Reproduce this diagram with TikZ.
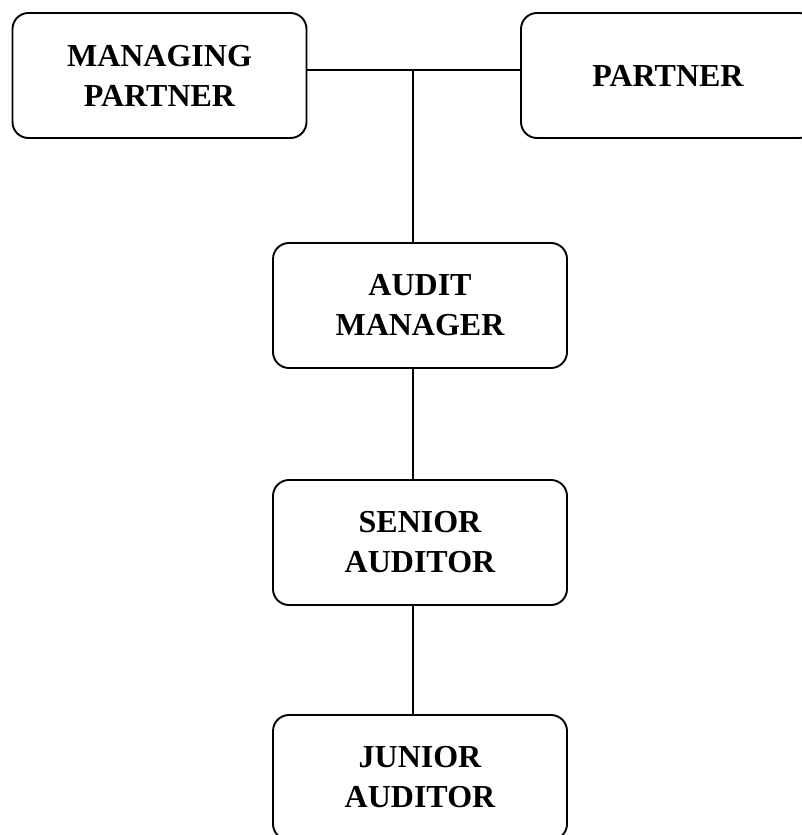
\documentclass[tikz,border=0pt]{standalone}
\usepackage{fontspec}
\setmainfont{Liberation Serif}
\usetikzlibrary{positioning}

\begin{document}
\begin{tikzpicture}[x=1pt, y=-1pt,
		rank/.style={draw, rounded corners=16pt, line width=1.9pt, align=center,
			minimum width=294pt, minimum height=125pt, inner sep=0pt,
			font=\fontsize{32}{40}\selectfont\bfseries},
		link/.style={line width=1.9pt}]
		% Bildbereich
		\useasboundingbox (0,0) rectangle (802,835);
		% Kaesten
		\node[rank] (mp) at (159.5,75.5) {MANAGING\\PARTNER};
		\node[rank] (pa) at (668,75.5) {PARTNER};
		\node[rank] (am) at (420,305.5) {AUDIT\\MANAGER};
		\node[rank] (sa) at (420,542.5) {SENIOR\\AUDITOR};
		\node[rank] (ja) at (420,777.5) {JUNIOR\\AUDITOR};
		% Verbindungen
		\coordinate (knot) at (413,70);
		\draw[link] (mp.east |- knot) -- (pa.west |- knot);
		\draw[link] (knot) -- (knot |- am.north);
		\draw[link] (knot |- am.south) -- (knot |- sa.north);
		\draw[link] (knot |- sa.south) -- (knot |- ja.north);
	\end{tikzpicture}
\end{document}
